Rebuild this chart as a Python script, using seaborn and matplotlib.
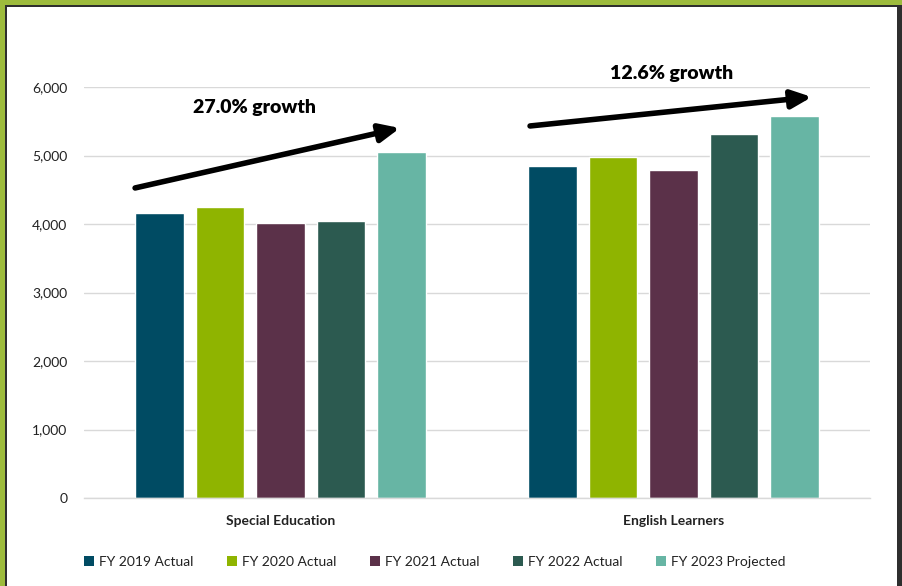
import matplotlib
matplotlib.use("Agg")
import matplotlib.pyplot as plt
import seaborn as sns
import pandas as pd
from matplotlib.patches import Rectangle, Patch

categories = ["Special Education", "English Learners"]
series = ["FY 2019 Actual", "FY 2020 Actual", "FY 2021 Actual", "FY 2022 Actual", "FY 2023 Projected"]
special_ed = [4160, 4250, 4015, 4045, 5050]
english_learners = [4840, 4975, 4790, 5310, 5575]
colors = ["#004B63", "#8FB400", "#5B3149", "#2C5A50", "#67B5A4"]
yticks = [0, 1000, 2000, 3000, 4000, 5000, 6000]
growth_labels = ["27.0% growth", "12.6% growth"]

rows = []
for s, a, b in zip(series, special_ed, english_learners):
    rows.append({"Category": categories[0], "Series": s, "Value": a})
    rows.append({"Category": categories[1], "Series": s, "Value": b})
df = pd.DataFrame(rows)

sns.set_theme(style="white")
plt.rcParams['font.family'] = ['Lato', 'DejaVu Sans']

fig = plt.figure(figsize=(9.03, 5.86), dpi=100)
fig.patch.set_facecolor("#9DBB3C")
W, H = 903, 586
fig.patches.append(Rectangle((5 / W, 0), (W - 5) / W, (H - 5) / H, transform=fig.transFigure,
                             facecolor="#2E2E2E", edgecolor="none", zorder=-20))
fig.patches.append(Rectangle((7 / W, 0), (897 - 7) / W, (H - 7) / H, transform=fig.transFigure,
                             facecolor="white", edgecolor="none", zorder=-19))

ax = fig.add_axes([84 / W, 88 / H, (870 - 84) / W, (498 - 87) / H])
ax.set_facecolor("none")
ax.set_zorder(1)

sns.barplot(data=df, x="Category", y="Value", hue="Series", hue_order=series,
            palette=colors, width=0.77, gap=0.2, ax=ax, legend=False,
            saturation=1, errorbar=None)

ax.set_xlim(-0.5, 1.5)
ax.set_ylim(0, 6000)
ax.set_yticks(yticks)
ax.set_yticklabels([f"{v:,}" for v in yticks], fontsize=10, color="#222222")
ax.yaxis.grid(True, color="#D9D9D9", linewidth=1)
ax.set_axisbelow(True)
for sp in ["top", "right", "left"]:
    ax.spines[sp].set_visible(False)
ax.spines["bottom"].set_color("#D9D9D9")
ax.spines["bottom"].set_linewidth(1)
ax.tick_params(axis="y", length=0, pad=12)
ax.tick_params(axis="x", length=0, pad=12)
ax.set_xticks([0, 1])
ax.set_xticklabels(categories, fontsize=10, fontweight="bold", color="#222222")
ax.set_xlabel("")
ax.set_ylabel("")

# growth arrows
ax.annotate("", xy=(0.304, 5401), xytext=(-0.370, 4526),
            arrowprops=dict(arrowstyle="-|>,head_length=1.0,head_width=0.45", color="black", lw=4,
                            shrinkA=0, shrinkB=0), annotation_clip=False)
ax.annotate("", xy=(1.352, 5854), xytext=(0.635, 5431),
            arrowprops=dict(arrowstyle="-|>,head_length=1.0,head_width=0.45", color="black", lw=4,
                            shrinkA=0, shrinkB=0), annotation_clip=False)
ax.text(-0.067, 5694, growth_labels[0], ha="center", va="center", fontsize=14,
        fontweight="heavy", color="black", clip_on=False)
ax.text(0.994, 6190, growth_labels[1], ha="center", va="center", fontsize=14,
        fontweight="heavy", color="black", clip_on=False)

handles = [Patch(facecolor=c, edgecolor="none", label=s) for s, c in zip(series, colors)]
fig.legend(handles=handles, loc="center", bbox_to_anchor=(435 / W, 1 - 562 / H), ncol=5,
           frameon=False, fontsize=10, handlelength=0.7, handleheight=0.7,
           handletextpad=0.4, columnspacing=2.4, labelcolor="#222222")

fig.savefig("out.png", dpi=100, facecolor=fig.get_facecolor())
